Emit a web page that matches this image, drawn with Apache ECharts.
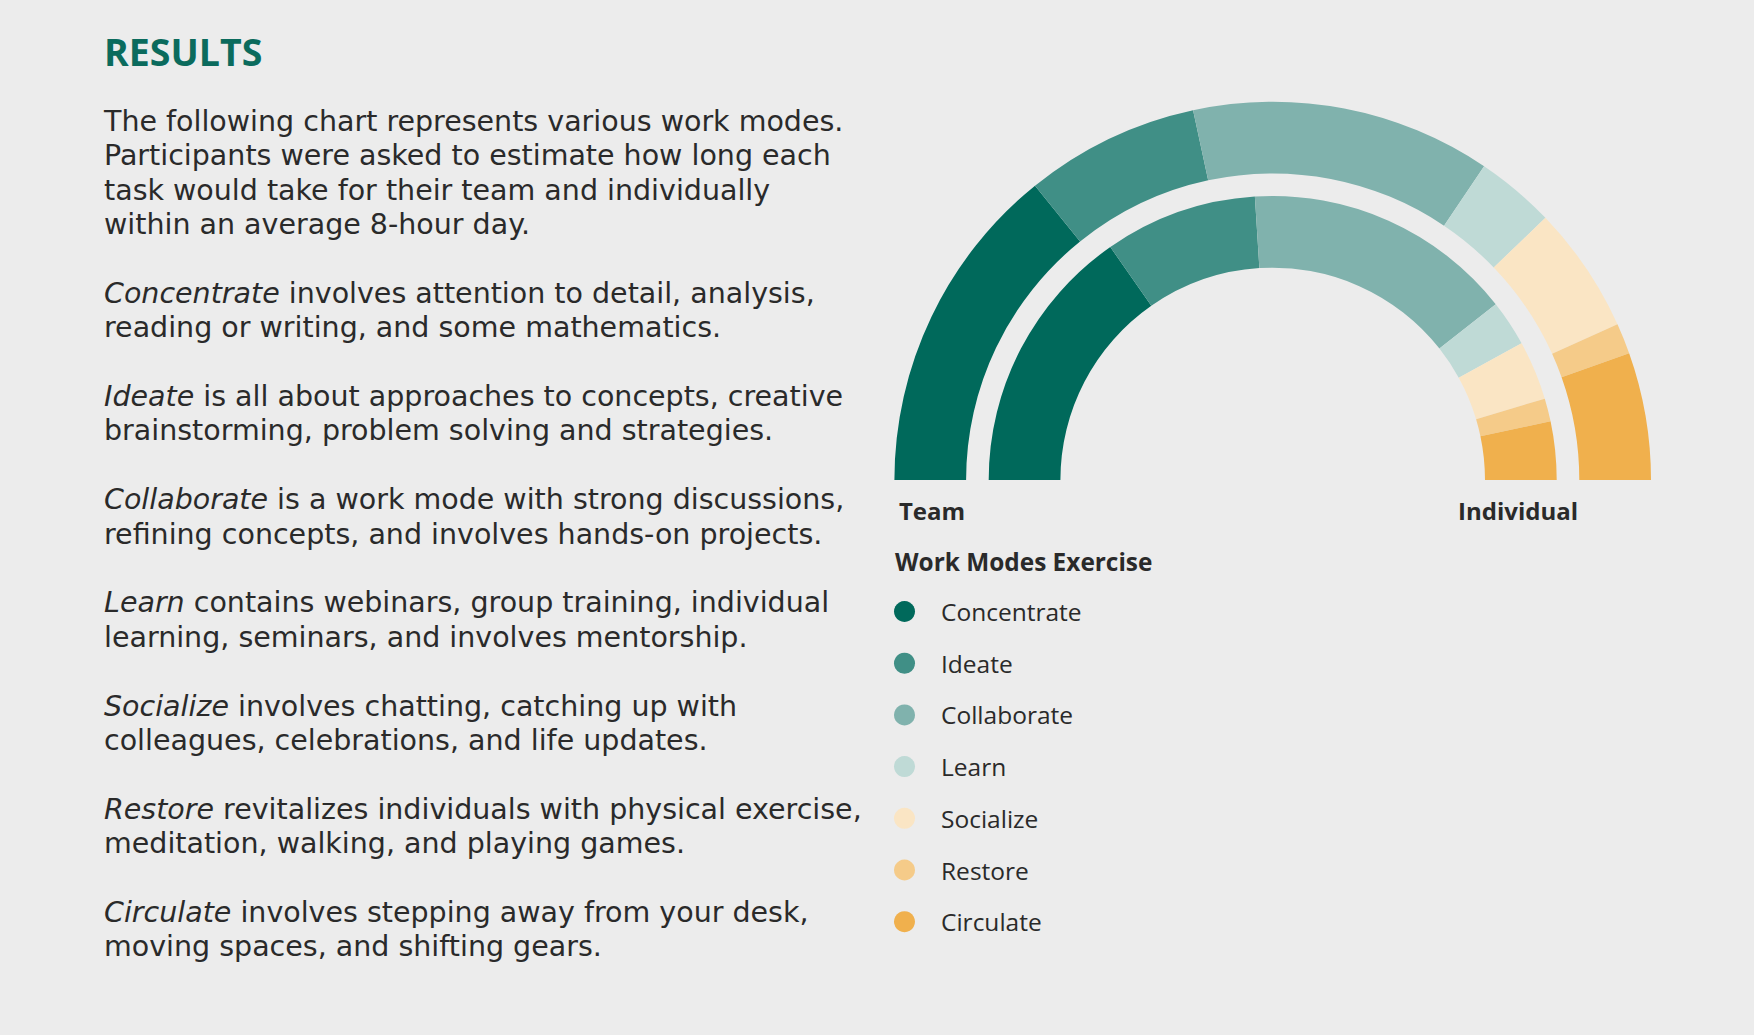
<!DOCTYPE html>
<html>
<head>
<meta charset="utf-8">
<script src="https://cdn.jsdelivr.net/npm/echarts@6/dist/echarts.min.js"></script>
<style>
  html, body { margin: 0; padding: 0; background: #ececec; }
  #main { width: 1754px; height: 1035px; }
</style>
</head>
<body>
<div id="main"></div>
<script>
// work modes, hours out of an 8-hour day
var modes = ['Concentrate', 'Ideate', 'Collaborate', 'Learn', 'Socialize', 'Restore', 'Circulate'];
var teamHours = [2.27, 1.19, 2.05, 0.54, 0.87, 0.21, 0.87];
var individualHours = [2.45, 1.39, 2.46, 0.42, 0.54, 0.21, 0.53];
var palette = ['#00695b', '#408f86', '#80b2ad', '#bfdad6', '#fae5c4', '#f5cb89', '#f0b04d'];

var introLines = [
	'The following chart represents various work modes.',
	'Participants were asked to estimate how long each',
	'task would take for their team and individually',
	'within an average 8-hour day.'
];
var modeLines = [
	['Concentrate', ' involves attention to detail, analysis,', 'reading or writing, and some mathematics.'],
	['Ideate', ' is all about approaches to concepts, creative', 'brainstorming, problem solving and strategies.'],
	['Collaborate', ' is a work mode with strong discussions,', 'refining concepts, and involves hands-on projects.'],
	['Learn', ' contains webinars, group training, individual', 'learning, seminars, and involves mentorship.'],
	['Socialize', ' involves chatting, catching up with', 'colleagues, celebrations, and life updates.'],
	['Restore', ' revitalizes individuals with physical exercise,', 'meditation, walking, and playing games.'],
	['Circulate', ' involves stepping away from your desk,', 'moving spaces, and shifting gears.']
];

var FONT = '"Open Sans", "Noto Sans", sans-serif';
var BODY_FONT = '"DejaVu Sans", "Open Sans", sans-serif';
var TEXT_COLOR = '#2a2a2a';
var BODY_SIZE = 28.5;

var bodyText = introLines.join('\n');
modeLines.forEach(function(p) {
	bodyText += '\n\n{i|' + p[0] + '}' + p[1] + '\n' + p[2];
});

function makeData(values) {
	return modes.map(function(name, i) {
		return { name: name, value: values[i] };
	});
}

var center = [1272.7, 480];

var myChart = echarts.init(document.getElementById('main'), null, { renderer: 'svg' });
var option = {
	backgroundColor: '#ececec',
	color: palette,
	animation: false,
	title: [{
		text: bodyText,
		left: 104,
		top: 104,
		padding: 0,
		textStyle: {
			fontFamily: BODY_FONT,
			fontSize: BODY_SIZE,
			fontWeight: 'normal',
			color: TEXT_COLOR,
			lineHeight: 34.4,
			rich: {
				i: {
					fontFamily: BODY_FONT,
					fontSize: BODY_SIZE,
					fontStyle: 'italic',
					color: TEXT_COLOR,
					lineHeight: 34.4
				}
			}
		}
	}],
	graphic: [
		{
			type: 'text', x: 104, y: 51,
			style: { text: 'RESULTS', font: 'bold 37.5px ' + FONT, fill: '#0b6b5d', verticalAlign: 'middle' }
		},
		{
			type: 'text', x: 932, y: 510,
			style: { text: 'Team', font: 'bold 24px ' + FONT, fill: TEXT_COLOR, align: 'center', verticalAlign: 'middle' }
		},
		{
			type: 'text', x: 1518, y: 510,
			style: { text: 'Individual', font: 'bold 24px ' + FONT, fill: TEXT_COLOR, align: 'center', verticalAlign: 'middle' }
		},
		{
			type: 'text', x: 895, y: 561,
			style: { text: 'Work Modes Exercise', font: 'bold 24.4px ' + FONT, fill: TEXT_COLOR, verticalAlign: 'middle' }
		}
	],
	legend: {
		orient: 'vertical',
		left: 894,
		top: 599,
		padding: 0,
		icon: 'circle',
		itemWidth: 21,
		itemHeight: 21,
		itemGap: 26.7,
		selectedMode: false,
		data: modes,
		textStyle: {
			fontFamily: FONT,
			fontSize: 24.5,
			color: TEXT_COLOR,
			lineHeight: 21,
			padding: [0, 0, 0, 21]
		}
	},
	series: [
		{
			name: 'Team',
			type: 'pie',
			center: center,
			radius: [306.6, 378.3],
			startAngle: 180,
			endAngle: 0,
			clockwise: true,
			label: { show: false },
			labelLine: { show: false },
			emphasis: { disabled: true },
			silent: true,
			data: makeData(teamHours)
		},
		{
			name: 'Individual',
			type: 'pie',
			center: center,
			radius: [212.3, 284],
			startAngle: 180,
			endAngle: 0,
			clockwise: true,
			label: { show: false },
			labelLine: { show: false },
			emphasis: { disabled: true },
			silent: true,
			data: makeData(individualHours)
		}
	]
};
myChart.setOption(option);
</script>
</body>
</html>
